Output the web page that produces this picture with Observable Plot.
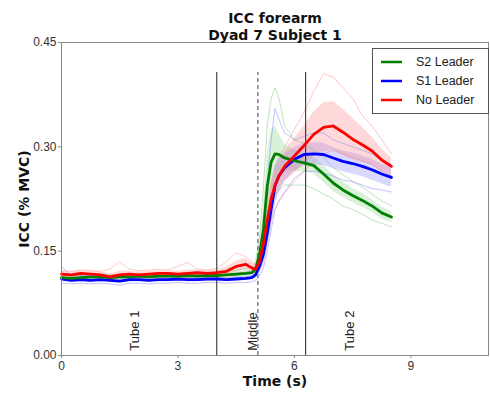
<!DOCTYPE html>
<html>
<head>
<meta charset="utf-8">
<script src="https://cdn.jsdelivr.net/npm/d3@7"></script>
<script src="https://cdn.jsdelivr.net/npm/@observablehq/plot@0.6"></script>
<style>
  html, body { margin: 0; padding: 0; background: #fff; }
  #wrap { position: relative; width: 490px; height: 396px; }
  #legend { position: absolute; left: 372px; top: 48px; width: 115px; height: 64px;
    border: 1px solid #555; background: #fff; font-family: "Liberation Sans", Arial, sans-serif;
    font-size: 12.5px; color: #222; }
  #legend .row { position: absolute; left: 0; height: 16px; display: flex; align-items: center; }
  #legend svg { margin-left: 8px; margin-right: 14px; }
</style>
</head>
<body>
<div id="wrap"><div id="legend"></div></div>
<script>
// ---- data ----
const time = [0, 0.25, 0.5, 0.75, 1.0, 1.25, 1.5, 1.75, 2.0, 2.25, 2.5, 2.75, 3.0, 3.25, 3.5, 3.75, 4.0, 4.25, 4.5, 4.75,
  4.9, 5.0, 5.1, 5.2, 5.3, 5.4, 5.5, 5.6, 5.75, 6.0, 6.25, 6.5, 6.75, 7.0, 7.25, 7.5, 7.75, 8.0, 8.25, 8.5];

const seriesNames = ["S2 Leader", "S1 Leader", "No Leader"];

const s2Mean = [0.112, 0.111, 0.112, 0.113, 0.113, 0.112, 0.113, 0.113, 0.114, 0.113, 0.114, 0.114, 0.114, 0.115, 0.114, 0.115, 0.115, 0.116, 0.117, 0.118,
  0.119, 0.124, 0.145, 0.180, 0.243, 0.278, 0.290, 0.289, 0.284, 0.280, 0.277, 0.273, 0.261, 0.248, 0.238, 0.230, 0.223, 0.215, 0.205, 0.199];
const s2Sd = [0.003, 0.003, 0.003, 0.003, 0.003, 0.003, 0.003, 0.003, 0.003, 0.003, 0.003, 0.003, 0.003, 0.003, 0.003, 0.003, 0.003, 0.003, 0.004, 0.004,
  0.004, 0.006, 0.015, 0.030, 0.045, 0.045, 0.040, 0.030, 0.020, 0.015, 0.013, 0.012, 0.012, 0.012, 0.011, 0.010, 0.010, 0.009, 0.009, 0.008];
const s2Hi = [0.116, 0.115, 0.116, 0.117, 0.117, 0.116, 0.117, 0.117, 0.118, 0.117, 0.118, 0.118, 0.118, 0.119, 0.118, 0.119, 0.119, 0.121, 0.123, 0.125,
  0.127, 0.135, 0.170, 0.240, 0.330, 0.370, 0.385, 0.370, 0.330, 0.310, 0.305, 0.295, 0.285, 0.270, 0.260, 0.250, 0.242, 0.232, 0.222, 0.215];
const s2Lo = [0.109, 0.108, 0.109, 0.110, 0.110, 0.109, 0.110, 0.110, 0.111, 0.110, 0.111, 0.111, 0.111, 0.112, 0.111, 0.112, 0.112, 0.112, 0.113, 0.113,
  0.114, 0.116, 0.128, 0.150, 0.190, 0.215, 0.230, 0.238, 0.245, 0.245, 0.245, 0.240, 0.232, 0.225, 0.215, 0.210, 0.203, 0.195, 0.190, 0.185];

const s1Mean = [0.110, 0.108, 0.109, 0.108, 0.109, 0.108, 0.107, 0.109, 0.109, 0.108, 0.109, 0.109, 0.110, 0.109, 0.109, 0.110, 0.110, 0.109, 0.110, 0.111,
  0.112, 0.116, 0.128, 0.145, 0.175, 0.210, 0.244, 0.258, 0.270, 0.282, 0.289, 0.290, 0.289, 0.284, 0.279, 0.276, 0.272, 0.267, 0.261, 0.256];
const s1Sd = [0.004, 0.003, 0.003, 0.003, 0.003, 0.003, 0.003, 0.003, 0.003, 0.003, 0.003, 0.003, 0.003, 0.003, 0.003, 0.003, 0.003, 0.003, 0.003, 0.003,
  0.003, 0.005, 0.010, 0.018, 0.025, 0.028, 0.028, 0.025, 0.020, 0.017, 0.016, 0.016, 0.016, 0.015, 0.015, 0.015, 0.015, 0.015, 0.014, 0.014];
const s1Hi = [0.128, 0.114, 0.115, 0.114, 0.115, 0.114, 0.113, 0.115, 0.115, 0.114, 0.115, 0.115, 0.116, 0.115, 0.115, 0.116, 0.116, 0.115, 0.116, 0.117,
  0.118, 0.125, 0.145, 0.180, 0.250, 0.310, 0.355, 0.340, 0.320, 0.310, 0.315, 0.320, 0.320, 0.310, 0.305, 0.300, 0.295, 0.290, 0.280, 0.275];
const s1Lo = [0.104, 0.103, 0.104, 0.103, 0.104, 0.103, 0.101, 0.104, 0.104, 0.103, 0.104, 0.104, 0.105, 0.104, 0.104, 0.105, 0.105, 0.104, 0.105, 0.105,
  0.106, 0.108, 0.114, 0.125, 0.150, 0.180, 0.210, 0.222, 0.235, 0.255, 0.265, 0.265, 0.262, 0.258, 0.252, 0.250, 0.245, 0.240, 0.238, 0.235];

const noMean = [0.117, 0.116, 0.118, 0.117, 0.116, 0.113, 0.116, 0.117, 0.116, 0.117, 0.118, 0.118, 0.117, 0.118, 0.119, 0.118, 0.119, 0.121, 0.128, 0.131,
  0.126, 0.124, 0.135, 0.160, 0.194, 0.225, 0.245, 0.258, 0.272, 0.287, 0.302, 0.318, 0.328, 0.330, 0.321, 0.311, 0.303, 0.294, 0.281, 0.272];
const noSd = [0.004, 0.004, 0.004, 0.004, 0.004, 0.004, 0.005, 0.004, 0.004, 0.004, 0.004, 0.004, 0.004, 0.005, 0.004, 0.004, 0.004, 0.006, 0.008, 0.008,
  0.007, 0.006, 0.010, 0.018, 0.020, 0.020, 0.020, 0.020, 0.022, 0.025, 0.028, 0.032, 0.035, 0.035, 0.033, 0.030, 0.025, 0.020, 0.016, 0.012];
const noHi = [0.122, 0.121, 0.123, 0.122, 0.121, 0.124, 0.135, 0.124, 0.122, 0.123, 0.124, 0.123, 0.128, 0.134, 0.124, 0.123, 0.125, 0.135, 0.148, 0.142,
  0.135, 0.130, 0.150, 0.190, 0.225, 0.250, 0.270, 0.285, 0.300, 0.325, 0.350, 0.380, 0.405, 0.400, 0.385, 0.370, 0.345, 0.330, 0.310, 0.290];
const noLo = [0.113, 0.112, 0.114, 0.113, 0.112, 0.109, 0.112, 0.113, 0.112, 0.113, 0.114, 0.114, 0.113, 0.114, 0.115, 0.114, 0.115, 0.116, 0.118, 0.120,
  0.118, 0.117, 0.124, 0.140, 0.170, 0.195, 0.210, 0.222, 0.235, 0.250, 0.265, 0.280, 0.290, 0.295, 0.290, 0.285, 0.280, 0.275, 0.265, 0.258];

const xTicks = [0, 3, 6, 9];
const yTicks = [0, 0.15, 0.30, 0.45];
const phaseBounds = [4.0, 5.06, 6.29];
const phaseDashed = [false, true, false];
const boundTop = 0.407;
const phaseLabels = ["Tube 1", "Middle", "Tube 2"];
const phaseLabelX = [1.9, 4.93, 7.44];
const titleLines = "ICC forearm\nDyad 7 Subject 1";

// ---- build tables ----
const colors = {"S2 Leader": "#008000", "S1 Leader": "#0000ff", "No Leader": "#ff0000"};
const bandColors = {"S2 Leader": "#7fd07f", "S1 Leader": "#8080ff", "No Leader": "#ff8080"};
const trialColors = {"S2 Leader": "#5fb85f", "S1 Leader": "#6a6aff", "No Leader": "#ff7070"};
const means = [s2Mean, s1Mean, noMean];
const sds = [s2Sd, s1Sd, noSd];
const his = [s2Hi, s1Hi, noHi];
const los = [s2Lo, s1Lo, noLo];

const rows = [];
const trials = [];
seriesNames.forEach((name, k) => {
  time.forEach((t, i) => {
    rows.push({series: name, t, mean: means[k][i], lo: means[k][i] - sds[k][i], hi: means[k][i] + sds[k][i]});
    trials.push({series: name, trial: name + " hi", t, v: his[k][i]});
    trials.push({series: name, trial: name + " lo", t, v: los[k][i]});
  });
});
const bounds = phaseBounds.map((x, i) => ({x, dashed: phaseDashed[i]}));
const labels = phaseLabels.map((text, i) => ({text, x: phaseLabelX[i]}));

const plot = Plot.plot({
  width: 490,
  height: 396,
  marginLeft: 61,
  marginRight: 2,
  marginTop: 42,
  marginBottom: 41,
  style: {fontFamily: "'Liberation Sans', Arial, sans-serif", fontSize: "12px", color: "#333", background: "white"},
  x: {domain: [0, 11]},
  y: {domain: [0, 0.45]},
  marks: [
    ...seriesNames.map(name => Plot.areaY(rows.filter(d => d.series === name), {
      x: "t", y1: "lo", y2: "hi", fill: bandColors[name], fillOpacity: 0.3, curve: "linear"
    })),
    ...seriesNames.map(name => Plot.line(trials.filter(d => d.series === name), {
      x: "t", y: "v", z: "trial", stroke: trialColors[name], strokeWidth: 0.8, strokeOpacity: 0.5
    })),
    Plot.ruleX(bounds.filter(d => !d.dashed), {x: "x", y1: 0, y2: boundTop, stroke: "#222", strokeWidth: 1}),
    Plot.ruleX(bounds.filter(d => d.dashed), {x: "x", y1: 0, y2: boundTop, stroke: "#444", strokeWidth: 1, strokeDasharray: "4,3"}),
    ...["S1 Leader", "S2 Leader", "No Leader"].map(name => Plot.line(rows.filter(d => d.series === name), {
      x: "t", y: "mean", stroke: colors[name], strokeWidth: 2.8
    })),
    Plot.text(labels, {x: "x", y: 0.007, text: "text", rotate: -90, textAnchor: "start",
      fontSize: 13, fill: "#222"}),
    Plot.frame({stroke: "#888"}),
    Plot.axisX(xTicks, {tickSize: 3, stroke: "#888", tickPadding: 3, fill: "#333", fontSize: 12,
      label: "Time (s)", labelAnchor: "center", labelArrow: "none", labelOffset: 30}),
    Plot.axisY(yTicks, {tickSize: 3, stroke: "#888", tickPadding: 2, tickFormat: d3.format(".2f"),
      fill: "#333", fontSize: 12, label: "ICC (% MVC)", labelAnchor: "center", labelArrow: "none", labelOffset: 42}),
    Plot.text([titleLines], {frameAnchor: "top", text: d => d, dy: -3, lineAnchor: "bottom",
      fontWeight: "bold", fontSize: 14, fontFamily: "'DejaVu Sans', Verdana, sans-serif", fill: "#111", lineHeight: 1.15})
  ]
});

plot.querySelectorAll("g[aria-label='x-axis label'] text, g[aria-label='y-axis label'] text").forEach(t => {
  t.setAttribute("font-weight", "bold");
  t.setAttribute("font-size", "14");
  t.setAttribute("font-family", "'DejaVu Sans', Verdana, sans-serif");
  t.setAttribute("fill", "#111");
});

document.getElementById("wrap").prepend(plot);

const legend = document.getElementById("legend");
seriesNames.forEach((name, i) => {
  const row = document.createElement("div");
  row.className = "row";
  row.style.top = (5 + i * 19) + "px";
  row.innerHTML = `<svg width="21" height="6"><line x1="0" x2="21" y1="3" y2="3" stroke="${colors[name]}" stroke-width="2.5"/></svg><span>${name}</span>`;
  legend.appendChild(row);
});
</script>
</body>
</html>
